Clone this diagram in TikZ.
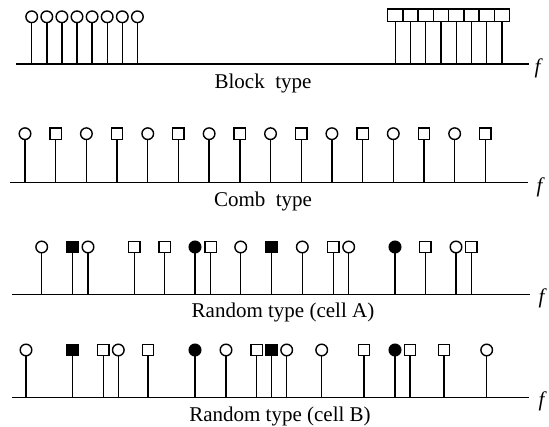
\documentclass[tikz,border=0pt]{standalone}
\usepackage{fontspec}
\setmainfont{Liberation Serif}
\begin{document}
\begin{tikzpicture}[x=1pt,y=-1pt,line width=1.4pt,
  circ/.style={circle,draw,fill=white,inner sep=0pt,minimum size=11.6pt,line width=1.4pt},
  circf/.style={circle,draw,fill=black,inner sep=0pt,minimum size=11.6pt,line width=1.4pt},
  sq/.style={rectangle,draw,fill=white,inner sep=0pt,minimum size=11.4pt,line width=1.4pt},
  sqf/.style={rectangle,draw,fill=black,inner sep=0pt,minimum size=11.4pt,line width=1.4pt},
  bsq/.style={rectangle,draw,fill=white,inner sep=0pt,minimum width=15.2pt,minimum height=12.3pt,line width=1.4pt},
  lbl/.style={font=\fontsize{21}{24}\selectfont,anchor=base,inner sep=0pt},
  fl/.style={font=\fontsize{21}{24}\selectfont\itshape,anchor=base west,inner sep=0pt}]
\useasboundingbox (0,0) rectangle (549,427);
% ---------- Row 1: block type ----------
\coordinate (a1s) at (16,64);
\coordinate (a1e) at (529,64);
\draw (a1s) -- (a1e);
\foreach \i in {0,...,7} {
  \node[circ] (b1c\i) at ({31.7+15.1*\i},16.8) {};
  \draw (b1c\i.south) -- (b1c\i.south |- a1s);
  \node[bsq] (b1s\i) at ({395.3+15.24*\i},15.2) {};
  \draw (b1s\i.south) -- (b1s\i.south |- a1s);
}
\node[lbl] (l1) at (263,88.3) {Block\ \ type};
\node[fl] (f1) at (534,73.5) {f};
% ---------- Row 2: comb type ----------
\coordinate (a2s) at (10,182.7);
\coordinate (a2e) at (528,182.7);
\draw (a2s) -- (a2e);
\foreach \i in {0,...,7} {
  \node[circ] (c2c\i) at ({25+61.38*\i},133.7) {};
  \draw (c2c\i.south) -- (c2c\i.south |- a2s);
  \node[sq] (c2s\i) at ({55.69+61.38*\i},133.8) {};
  \draw (c2s\i.south) -- (c2s\i.south |- a2s);
}
\node[lbl] (l2) at (263,206.5) {Comb\ \ type};
\node[fl] (f2) at (536,192.5) {f};
% ---------- Row 3: random type (cell A) ----------
\coordinate (a3s) at (12,294.3);
\coordinate (a3e) at (530,294.3);
\draw (a3s) -- (a3e);
\foreach \x/\t [count=\k] in {41.7/circ,72.7/sqf,88/circ,134.3/sq,164.7/sq,195/circf,210.7/sq,240.7/circ,271.7/sqf,302.3/circ,333.3/sq,348.7/circ,395/circf,425.3/sq,456/circ,471.3/sq} {
  \node[\t] (r3m\k) at (\x,247) {};
  \draw (r3m\k.south) -- (r3m\k.south |- a3s);
}
\node[lbl] (l3) at (283,317.3) {Random type (cell A)};
\node[fl] (f3) at (538,304) {f};
% ---------- Row 4: random type (cell B) ----------
\coordinate (a4s) at (12,397.3);
\coordinate (a4e) at (529,397.3);
\draw (a4s) -- (a4e);
\foreach \x/\t [count=\k] in {26/circ,72.7/sqf,103.3/sq,118.3/circ,148/sq,195/circf,226/circ,256.7/sq,271.7/sqf,286.7/circ,321.7/circ,364/sq,395/circf,410/sq,444/sq,486.7/circ} {
  \node[\t] (r4m\k) at (\x,350) {};
  \draw (r4m\k.south) -- (r4m\k.south |- a4s);
}
\node[lbl] (l4) at (280,421) {Random type (cell B)};
\node[fl] (f4) at (538,407) {f};
\end{tikzpicture}
\end{document}
